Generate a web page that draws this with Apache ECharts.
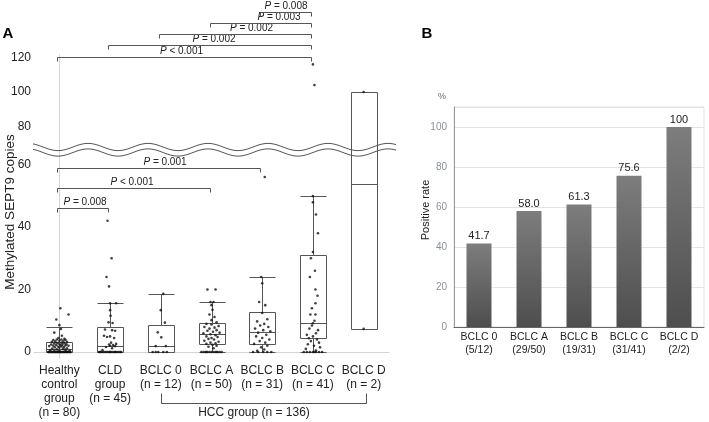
<!DOCTYPE html>
<html><head><meta charset="utf-8">
<script src="https://cdn.jsdelivr.net/npm/echarts@6/dist/echarts.min.js"></script>
<style>html,body{margin:0;padding:0;background:#fff}#c{width:709px;height:422px}</style>
</head><body><div id="c"></div>
<script>
// ---------- Panel A data ----------
const groupLabels = ['Healthy\ncontrol\ngroup\n(n = 80)', 'CLD\ngroup\n(n = 45)', 'BCLC 0\n(n = 12)', 'BCLC A\n(n = 50)', 'BCLC B\n(n = 31)', 'BCLC C\n(n = 41)', 'BCLC D\n(n = 2)'];
// [whisker low, Q1, median, Q3, whisker high]
const boxStats = [
  [0, 0, 1, 3.1, 8],
  [0, 0, 1.8, 7.9, 15.6],
  [0, 0, 1.9, 8.5, 18.6],
  [0, 2.5, 5.7, 9.2, 16],
  [0, 2.5, 6.5, 12.7, 24],
  [0, 4.4, 9.2, 31, 49.9],
  [7.4, 7.4, 53.7, 100, 100]
];
// individual points: [horizontal jitter (category units), copies]
const healthyDots = [[0.02,14],[0.18,12],[-0.06,10.4],[0,8.6],[0.03,7.4],[-0.1,6.2],[0.05,5.2],[-0.02,4.5],[0.1,4.2],[-0.05,4],[0.04,4],[0.12,3.9],[-0.12,3.8],[0,3.6],[0.08,3.5],[-0.08,3.4],[0.15,3.3],[-0.15,3.2],
  [0.05,3],[-0.04,2.9],[0.1,2.8],[-0.1,2.7],[0,2.6],[0.14,2.5],[-0.16,2.4],[0.06,2.3],[-0.06,2.2],[0.02,2.2],[0.12,2.1],[-0.12,2],[0.18,2],[-0.2,1.9],[0.04,1.8],[-0.02,1.7],[0.09,1.6],[-0.09,1.5],[0,1.4],[0.15,1.2],[-0.14,1.1],[0.07,1],[-0.05,0.9],[0.11,0.8],[-0.18,0.6],[0.2,0.5],[0,0.4],[-0.1,0.3],[0.13,0.2],[-0.03,0.1],
  [-0.22,0],[-0.2,0],[-0.18,0],[-0.16,0],[-0.14,0],[-0.12,0],[-0.1,0],[-0.08,0],[-0.06,0],[-0.04,0],[-0.02,0],[0,0],[0.02,0],[0.04,0],[0.06,0],[0.08,0],[0.1,0],[0.12,0],[0.14,0],[0.16,0],[0.18,0],[0.2,0],[0.22,0],[-0.21,0],[-0.15,0],[-0.09,0],[-0.03,0],[0.03,0],[0.09,0],[0.15,0],[0.21,0],[0.01,0]];
const cldDots = [[-0.05,42],[0.03,30],[-0.07,24],[-0.02,21],[0,15.6],[0.12,15.6],[0,13.4],[0.01,11.6],[-0.03,9.5],[0.05,9.3],[-0.1,7.2],[0.04,7],[0.1,6.8],[-0.12,5.2],[0,5],[-0.06,4.8],[0.08,4.5],[0.02,3],[0.12,2.6],[-0.02,2.4],[0.06,2.2],[0,2],[0.1,1.9],[-0.08,1.6],[0.04,1.2],[-0.15,0.6],
  [-0.22,0],[-0.19,0],[-0.16,0],[-0.13,0],[-0.1,0],[-0.07,0],[-0.04,0],[-0.01,0],[0.02,0],[0.05,0],[0.08,0],[0.11,0],[0.14,0],[0.17,0],[0.2,0],[0.22,0],[-0.2,0],[0,0],[0.1,0]];
const bclc0Dots = [[0.05,18.6],[0,13.4],[0.08,9.4],[-0.06,6.3],[0.01,4.7],[-0.1,1.9],[0.1,1.9],[-0.16,0],[-0.05,0],[0.05,0],[0.12,0],[-0.1,0]];
const bclcADots = [[-0.08,20],[0.08,20],[-0.02,16],[0.04,16],[0,15],[0.02,13.5],[-0.04,12],[0.06,11.2],[0,10.2],[0.1,9.5],[-0.1,9],[0,8.8],[0.14,8.3],[-0.14,8],[0.06,7.8],[-0.04,7.5],[0.1,7],[-0.08,6.8],[0.03,6.5],[0.16,6.2],[-0.16,6],[-0.02,5.7],[0.08,5.4],[-0.1,5],[0.12,4.8],[0,4.5],[-0.06,4.2],[0.05,4],[-0.14,3.6],[0.14,3.3],[-0.02,3],[0.08,2.8],[-0.1,2.6],[0.02,2.3],[0.1,2],[-0.06,1.7],[0.04,1.2],
  [-0.2,0],[-0.16,0],[-0.12,0],[-0.08,0],[-0.04,0],[0,0],[0.04,0],[0.08,0],[0.12,0],[0.16,0],[0.2,0],[-0.1,0],[0.1,0]];
const bclcBDots = [[0.05,56],[-0.02,24],[0,22],[-0.06,16],[0.06,15],[0,12.5],[0.1,10.5],[-0.1,9.8],[0.04,9],[-0.04,8.5],[0.12,8],[-0.14,7.5],[0.02,7],[0.16,6.6],[-0.08,6.2],[0.08,5.5],[-0.12,5],[0,4.5],[0.14,4],[-0.05,3.5],[0.06,3],[-0.16,2.6],[0.1,2],[-0.02,1.5],[0.04,0.8],[-0.1,0.4],
  [-0.18,0],[-0.08,0],[0.02,0],[0.1,0],[0.18,0]];
const bclcCDots = [[0,116],[0.03,104],[0,49.9],[0,47.9],[0.06,44],[0.1,38],[0,32],[-0.04,30],[0.04,26],[-0.06,24],[0.05,20],[0.09,18],[0.05,15.6],[-0.02,14],[-0.05,12],[0.05,12],[0.03,10],[0,9.2],[-0.02,8.5],[-0.07,7.5],[0.1,7],[0.06,6],[-0.12,5.5],[0,5],[-0.08,4.4],[0.08,4],[-0.04,3.5],[0.12,3],[-0.1,2.5],[0.02,2],[0.14,1.5],[-0.14,1],[0.06,0.5],
  [-0.18,0],[-0.12,0],[-0.06,0],[0,0],[0.06,0],[0.12,0],[0.18,0],[0.03,0]];
const bclcDDots = [[0,7.4],[0,100]];
const allDots = [healthyDots, cldDots, bclc0Dots, bclcADots, bclcBDots, bclcCDots, bclcDDots];

// significance brackets: [from group, to group, bracket level (copies), p text]
const pTests = [
  [0, 5, 120.3, '< 0.001'],
  [1, 5, 127.2, '= 0.002'],
  [2, 5, 133.6, '= 0.002'],
  [3, 5, 140.0, '= 0.003'],
  [4, 5, 146.4, '= 0.008'],
  [0, 4, 58.9, '= 0.001'],
  [0, 3, 52.5, '< 0.001'],
  [0, 1, 46.1, '= 0.008']
];
const pTextShift = [-3, 4, 16, 18, 0, 6, -2, 2];

// ---------- Panel B data ----------
const rateCategories = ['BCLC 0\n(5/12)', 'BCLC A\n(29/50)', 'BCLC B\n(19/31)', 'BCLC C\n(31/41)', 'BCLC D\n(2/2)'];
const rateValues = [41.7, 58.0, 61.3, 75.6, 100];
const rateLabels = ['41.7', '58.0', '61.3', '75.6', '100'];

const SPLIT = 65;
const FONT = 'Liberation Sans, Arial, sans-serif';
const lowerPts = [], upperPts = [];
allDots.forEach((arr, i) => arr.forEach(([dx, v]) => (v > SPLIT ? upperPts : lowerPts).push([i + dx, v])));
const boxData = boxStats.map((s, i) => [i].concat(s));

function renderBox(params, api) {
  const i = api.value(0);
  const cs = params.coordSys;
  const top = cs.y, bot = cs.y + cs.height;
  const x = Math.round(api.coord([i, 0])[0]) + 0.5;
  const hw = Math.round(api.size([1, 0])[0] * 0.25);
  const Y = v => Math.round(api.coord([i, v])[1]) + 0.5;
  const lo = Y(api.value(1)), q1 = Y(api.value(2)), md = Y(api.value(3)), q3 = Y(api.value(4)), hi = Y(api.value(5));
  const inR = y => y >= top - 1 && y <= bot + 1;
  const cl = y => Math.max(top, Math.min(bot, y));
  const ch = [];
  const st = { stroke: '#555', lineWidth: 1, fill: null };
  const line = (x1, y1, x2, y2) => ch.push({ type: 'line', shape: { x1, y1, x2, y2 }, style: st });
  const vseg = (xx, ya, yb) => {
    const a = cl(Math.min(ya, yb)), b = cl(Math.max(ya, yb));
    if (b - a > 0.1) line(xx, a, xx, b);
  };
  vseg(x, hi, q3); if (hi < q3 - 0.1 && inR(hi)) line(x - hw, hi, x + hw, hi);
  vseg(x, q1, lo); if (lo > q1 + 0.1 && inR(lo)) line(x - hw, lo, x + hw, lo);
  vseg(x - hw, q3, q1); vseg(x + hw, q3, q1);
  if (inR(q3)) line(x - hw, q3, x + hw, q3);
  if (inR(q1)) line(x - hw, q1, x + hw, q1);
  if (inR(md)) line(x - hw, md, x + hw, md);
  return { type: 'group', children: ch };
}

const chart = echarts.init(document.getElementById('c'), null, { renderer: 'canvas' });
const axisTxt = { color: '#222', fontFamily: FONT };
chart.setOption({
  animation: false,
  backgroundColor: '#fff',
  textStyle: { fontFamily: FONT },
  grid: [
    { left: 34, top: 148.9, width: 355, height: 209.4 },
    { left: 34, top: 54.9, width: 355, height: 106.1 },
    { left: 454, top: 107, width: 250, height: 220, show: true, borderColor: '#e3e3e3', borderWidth: 1 }
  ],
  xAxis: [
    { gridIndex: 0, type: 'category', data: groupLabels, position: 'bottom',
      axisLine: { lineStyle: { color: '#d4d4d4' } }, axisTick: { show: false },
      axisLabel: Object.assign({ interval: 0, fontSize: 12, lineHeight: 14, margin: 5 }, axisTxt) },
    { gridIndex: 0, type: 'value', min: -0.5, max: 6.5, show: false, position: 'top' },
    { gridIndex: 1, type: 'value', min: -0.5, max: 6.5, show: false },
    { gridIndex: 2, type: 'category', data: rateCategories,
      axisLine: { lineStyle: { color: '#666' } }, axisTick: { show: false },
      axisLabel: Object.assign({ interval: 0, fontSize: 10.5, lineHeight: 13, margin: 4 }, axisTxt) }
  ],
  yAxis: [
    { gridIndex: 0, type: 'value', min: -2, max: 65, splitLine: { show: false }, axisTick: { show: false },
      axisLine: { show: true, lineStyle: { color: '#d4d4d4' } },
      axisLabel: Object.assign({ fontSize: 12, margin: 3, formatter: v => (Math.abs(v % 20) < 1e-6 && v >= 0 && v <= 60) ? String(v) : '' }, axisTxt) },
    { gridIndex: 1, type: 'value', min: 60, max: 121.5, splitLine: { show: false }, axisTick: { show: false },
      axisLine: { show: true, lineStyle: { color: '#d4d4d4' } },
      axisLabel: Object.assign({ fontSize: 12, margin: 3, formatter: v => (Math.abs(v % 20) < 1e-6 && v >= 80 && v <= 120) ? String(v) : '' }, axisTxt) },
    { gridIndex: 2, type: 'value', min: 0, max: 110, interval: 20, axisTick: { show: false },
      axisLine: { show: true, lineStyle: { color: '#999' } },
      splitLine: { lineStyle: { color: '#e3e3e3' } },
      axisLabel: { fontSize: 10, margin: 7, color: '#8a909c', fontFamily: FONT, formatter: v => v > 100 ? '' : String(v) } }
  ],
  series: [
    { type: 'custom', xAxisIndex: 1, yAxisIndex: 0, renderItem: renderBox, data: boxData, silent: true, z: 2 },
    { type: 'custom', xAxisIndex: 2, yAxisIndex: 1, renderItem: renderBox, data: boxData, silent: true, z: 2 },
    { type: 'scatter', xAxisIndex: 1, yAxisIndex: 0, data: lowerPts, symbol: 'circle', symbolSize: 2.6, itemStyle: { color: '#111' }, silent: true, z: 3 },
    { type: 'scatter', xAxisIndex: 2, yAxisIndex: 1, data: upperPts, symbol: 'circle', symbolSize: 2.6, itemStyle: { color: '#111' }, silent: true, z: 3 },
    { type: 'bar', xAxisIndex: 3, yAxisIndex: 2, data: rateValues, barWidth: 25, silent: true,
      itemStyle: { color: new echarts.graphic.LinearGradient(0, 0, 0, 1, [{ offset: 0, color: '#7d7d7d' }, { offset: 1, color: '#4e4e4e' }]) },
      label: { show: true, position: 'top', distance: 2, fontSize: 11, color: '#222', fontFamily: FONT, formatter: p => rateLabels[p.dataIndex] } }
  ]
});

// ---------- annotations ----------
const g = [];
const lineSt = { stroke: '#555', lineWidth: 1 };
const pxL = (i, v) => chart.convertToPixel({ xAxisIndex: 1, yAxisIndex: 0 }, [i, v]);
const pxU = (i, v) => chart.convertToPixel({ xAxisIndex: 2, yAxisIndex: 1 }, [i, v]);
pTests.forEach(([a, b, lvl, txt], k) => {
  const f = lvl > SPLIT ? pxU : pxL;
  const pa = f(a, lvl), pb = f(b, lvl);
  const xa = Math.round(pa[0] - 2) + 0.5, xb = Math.round(pb[0] - 2) + 0.5, y = Math.round(pa[1]) + 0.5;
  g.push({ type: 'polyline', shape: { points: [[xa, y + 4], [xa, y], [xb, y], [xb, y + 4]] }, style: Object.assign({ fill: null }, lineSt), z: 10 });
  g.push({ type: 'text', x: (xa + xb) / 2 + pTextShift[k], y: y - 6, z: 10,
    style: { text: '{i|P} ' + txt, align: 'center', verticalAlign: 'middle', fill: '#222', fontSize: 10, fontFamily: FONT,
      rich: { i: { fontStyle: 'italic', fontSize: 10, fontFamily: FONT, fill: '#222' } } } });
});
// HCC group bracket
{
  const p2 = pxL(2, 0), p6 = pxL(6, 0);
  const xa = Math.round(p2[0]) + 0.5, xb = Math.round(p6[0] + 2) + 0.5, y = 403.5;
  g.push({ type: 'polyline', shape: { points: [[xa, y - 10], [xa, y], [xb, y], [xb, y - 10]] }, style: Object.assign({ fill: null }, lineSt), z: 10 });
  g.push({ type: 'text', x: (xa + xb) / 2 - 10, y: 413, z: 10,
    style: { text: 'HCC group (n = 136)', align: 'center', verticalAlign: 'middle', fill: '#222', fontSize: 12, fontFamily: FONT } });
}
// axis break waves
function wave(cy, x1, x2) {
  const pts = [];
  for (let x = x1; x <= x2; x += 1) pts.push([x, cy - 3.6 * Math.sin(2 * Math.PI * (x - 73) / 60)]);
  return pts;
}
const up = wave(147, 31, 37), dn = wave(152.5, 31, 37).reverse();
g.push({ type: 'polygon', shape: { points: up.concat(dn) }, style: { fill: '#fff', stroke: null }, z: 11 });
g.push({ type: 'polyline', shape: { points: wave(147, 33, 396) }, style: { fill: null, stroke: '#555', lineWidth: 1 }, z: 12 });
g.push({ type: 'polyline', shape: { points: wave(152.5, 33, 396) }, style: { fill: null, stroke: '#555', lineWidth: 1 }, z: 12 });
// titles
g.push({ type: 'text', x: 10, y: 212, rotation: Math.PI / 2, z: 10,
  style: { text: 'Methylated SEPT9 copies', align: 'center', verticalAlign: 'middle', fill: '#222', fontSize: 13.5, fontFamily: FONT } });
g.push({ type: 'text', x: 426, y: 210, rotation: Math.PI / 2, z: 10,
  style: { text: 'Positive rate', align: 'center', verticalAlign: 'middle', fill: '#222', fontSize: 11, fontFamily: FONT } });
g.push({ type: 'text', x: 442, y: 97, z: 10,
  style: { text: '%', align: 'center', verticalAlign: 'middle', fill: '#666', fontSize: 9, fontFamily: FONT } });
g.push({ type: 'text', x: 8, y: 34, z: 10,
  style: { text: 'A', align: 'center', verticalAlign: 'middle', fill: '#000', fontSize: 15, fontWeight: 'bold', fontFamily: FONT } });
g.push({ type: 'text', x: 427, y: 34, z: 10,
  style: { text: 'B', align: 'center', verticalAlign: 'middle', fill: '#000', fontSize: 15, fontWeight: 'bold', fontFamily: FONT } });
chart.setOption({ graphic: g });
</script>
</body></html>
